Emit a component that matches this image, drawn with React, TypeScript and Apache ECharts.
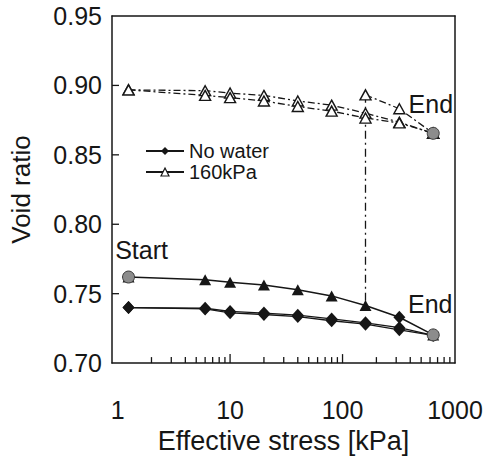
import React, { useEffect, useRef } from "react";
import * as echarts from "echarts";

// Loading steps (effective stress, kPa)
const stress = [1.25, 6, 10, 20, 40, 80, 160, 320, 640];

// Upper specimen, dry loading (two readings, dash-dot)
const upperDryA = [0.8968, 0.8962, 0.8945, 0.8928, 0.8888, 0.8858, 0.88, 0.8735, 0.8655];
const upperDryB = [0.8968, 0.8928, 0.8912, 0.8888, 0.8848, 0.8815, 0.8765, 0.873, 0.8655];

// Upper specimen after wetting at 160 kPa
const upperWetStress = [160, 320, 640];
const upperWet = [0.8932, 0.8832, 0.8655];

// Lower specimen wetted at 160 kPa
const wet160 = [0.762, 0.76, 0.7582, 0.7562, 0.7528, 0.7484, 0.7415, 0.733, 0.7203];

// Lower specimen, no water (two readings)
const noWaterA = [0.74, 0.7395, 0.7372, 0.736, 0.7345, 0.7318, 0.729, 0.7255, 0.72];
const noWaterB = [0.74, 0.739, 0.7362, 0.735, 0.7335, 0.7305, 0.728, 0.724, 0.72];

// Collapse on wetting at 160 kPa
const collapseStress = 160;
const collapseFrom = 0.8932;
const collapseTo = 0.7415;

// Start / end points
const startPoint = [1.25, 0.762];
const lowerEnd = [640, 0.7203];
const upperEnd = [640, 0.8655];

// Axis ranges and labels
const xLogMin = -0.05;
const xLogMax = 3;
const xLabelDecades = [0, 1, 2, 3];
const yMin = 0.7;
const yMax = 0.95;
const yInnerTicks = [0.75, 0.8, 0.85, 0.9];

const FONT = "'Liberation Sans', Arial, Helvetica, sans-serif";
const INK = "#161616";

const lg = (v: number) => Math.log10(v);
const pts = (xs: number[], ys: number[]) => xs.map((x, i) => [lg(x), ys[i]]);

export default function App() {
  const ref = useRef<HTMLDivElement>(null);

  useEffect(() => {
    if (!ref.current) return;
    const chart = echarts.init(ref.current, undefined, { renderer: "svg" });

    const dashDot = [7, 3, 2, 3];
    const openTri = {
      symbol: "triangle",
      symbolSize: [11, 10],
      itemStyle: { color: "#fff", borderColor: INK, borderWidth: 1.4 },
    };

    const wetData = pts(stress, wet160).map((p, i) =>
      i === 7 ? { value: p, symbol: "diamond", symbolSize: [12, 13] } : { value: p }
    );

    const labelText = {
      fontSize: 25,
      color: INK,
      fontFamily: FONT,
      textBorderWidth: 0,
    };

    const boxLine = { show: true, onZero: false, lineStyle: { color: INK, width: 1.5 } };

    chart.setOption({
      animation: false,
      backgroundColor: "#fff",
      textStyle: { fontFamily: FONT, color: INK },
      grid: { left: 111, right: 31, top: 16, bottom: 95 },
      legend: {
        orient: "vertical",
        left: 145,
        top: 141,
        padding: 0,
        itemWidth: 38,
        itemHeight: 10,
        itemGap: 1,
        textStyle: {
          fontSize: 20,
          lineHeight: 16,
          color: INK,
          fontFamily: FONT,
        },
        data: [
          { name: "No water" },
          {
            name: "160kPa",
            itemStyle: { color: "#fff", borderColor: INK, borderWidth: 1.2 },
          },
        ],
      },
      xAxis: [
        {
          type: "value",
          min: xLogMin,
          max: xLogMax,
          name: "Effective stress [kPa]",
          nameLocation: "middle",
          nameGap: 57,
          nameTextStyle: { fontSize: 27, color: INK, fontFamily: FONT },
          axisLine: boxLine,
          splitLine: { show: false },
          axisTick: { show: false },
          axisLabel: {
            customValues: xLabelDecades,
            margin: 34,
            fontSize: 25,
            color: INK,
            fontFamily: FONT,
            formatter: (v: number) => String(Math.round(Math.pow(10, v))),
          },
        },
        {
          type: "value",
          position: "top",
          min: xLogMin,
          max: xLogMax,
          axisLine: boxLine,
          splitLine: { show: false },
          axisTick: { show: false },
          axisLabel: { show: false },
        },
      ],
      yAxis: [
        {
          type: "value",
          min: yMin,
          max: yMax,
          interval: 0.05,
          name: "Void ratio",
          nameLocation: "middle",
          nameGap: 78,
          nameTextStyle: { fontSize: 26, color: INK, fontFamily: FONT },
          axisLine: boxLine,
          splitLine: { show: false },
          axisTick: { show: false },
          axisLabel: {
            margin: 10,
            fontSize: 25,
            color: INK,
            fontFamily: FONT,
            formatter: (v: number) => v.toFixed(2),
          },
        },
        {
          type: "value",
          position: "right",
          min: yMin,
          max: yMax,
          interval: 0.05,
          axisLine: boxLine,
          splitLine: { show: false },
          axisTick: { show: false },
          axisLabel: { show: false },
        },
      ],
      series: [
        {
          name: "upperDryA",
          type: "line",
          data: pts(stress, upperDryA),
          lineStyle: { color: INK, width: 1.3, type: dashDot },
          ...openTri,
          z: 3,
        },
        {
          name: "upperDryB",
          type: "line",
          data: pts(stress, upperDryB),
          lineStyle: { color: INK, width: 1.3, type: dashDot },
          ...openTri,
          z: 3,
        },
        {
          name: "upperWet",
          type: "line",
          data: pts(upperWetStress, upperWet).map((p, i) =>
            i === 1
              ? {
                  value: p,
                  label: {
                    show: true,
                    formatter: "End",
                    position: "right",
                    distance: 4,
                    offset: [-1, -5],
                    ...labelText,
                  },
                }
              : { value: p }
          ),
          lineStyle: { color: INK, width: 1.3, type: dashDot },
          ...openTri,
          z: 4,
        },
        {
          name: "collapse",
          type: "line",
          data: [
            [lg(collapseStress), collapseFrom],
            [lg(collapseStress), collapseTo],
          ],
          symbol: "none",
          lineStyle: { color: INK, width: 1.3, type: [8, 4, 2, 4] },
          z: 2,
        },
        {
          name: "No water",
          type: "line",
          data: pts(stress, noWaterA),
          symbol: "diamond",
          symbolSize: [12, 13],
          itemStyle: { color: INK },
          lineStyle: { color: INK, width: 1.3 },
          z: 3,
        },
        {
          name: "noWaterB",
          type: "line",
          data: pts(stress, noWaterB),
          symbol: "diamond",
          symbolSize: [12, 13],
          itemStyle: { color: INK },
          lineStyle: { color: INK, width: 1.3 },
          z: 3,
        },
        {
          name: "160kPa",
          type: "line",
          data: wetData,
          symbol: "triangle",
          symbolSize: [12, 11],
          itemStyle: { color: INK },
          lineStyle: { color: INK, width: 1.5 },
          z: 3,
        },
        {
          name: "markers",
          type: "line",
          lineStyle: { opacity: 0 },
          symbol: "circle",
          symbolSize: 12,
          itemStyle: { color: "#8c8c8c", borderColor: "#3a3a3a", borderWidth: 1 },
          data: [
            {
              value: [lg(startPoint[0]), startPoint[1]],
              label: {
                show: true,
                formatter: "Start",
                position: "top",
                distance: 8,
                offset: [13, 0],
                ...labelText,
              },
            },
            {
              value: [lg(lowerEnd[0]), lowerEnd[1]],
              label: {
                show: true,
                formatter: "End",
                position: "top",
                distance: 12,
                offset: [-3, 0],
                ...labelText,
              },
            },
            { value: [lg(upperEnd[0]), upperEnd[1]] },
          ],
          z: 5,
        },
      ],
    });

    // inward ticks, placed through the grid's own coordinate conversion
    const toPx = (x: number, y: number) =>
      chart.convertToPixel({ gridIndex: 0 }, [x, y]) as number[];
    const tickStyle = { stroke: INK, lineWidth: 1.3 };
    const ticks: any[] = [];
    for (let d = 0; d < 3; d++) {
      const values = [];
      if (d > 0) values.push({ v: d, len: 9 });
      for (let k = 2; k <= 9; k++) values.push({ v: lg(k * Math.pow(10, d)), len: 6 });
      values.forEach(({ v, len }) => {
        const p = toPx(v, yMin);
        ticks.push({
          type: "line",
          silent: true,
          z: 10,
          shape: { x1: p[0], y1: p[1], x2: p[0], y2: p[1] - len },
          style: tickStyle,
        });
      });
    }
    yInnerTicks.forEach((y) => {
      const p = toPx(xLogMin, y);
      ticks.push({
        type: "line",
        silent: true,
        z: 10,
        shape: { x1: p[0], y1: p[1], x2: p[0] + 7, y2: p[1] },
        style: tickStyle,
      });
    });
    chart.setOption({ graphic: ticks });

    return () => chart.dispose();
  }, []);

  return (
    <div
      ref={ref}
      style={{ position: "absolute", left: 0, top: 0, width: 486, height: 459 }}
    />
  );
}
